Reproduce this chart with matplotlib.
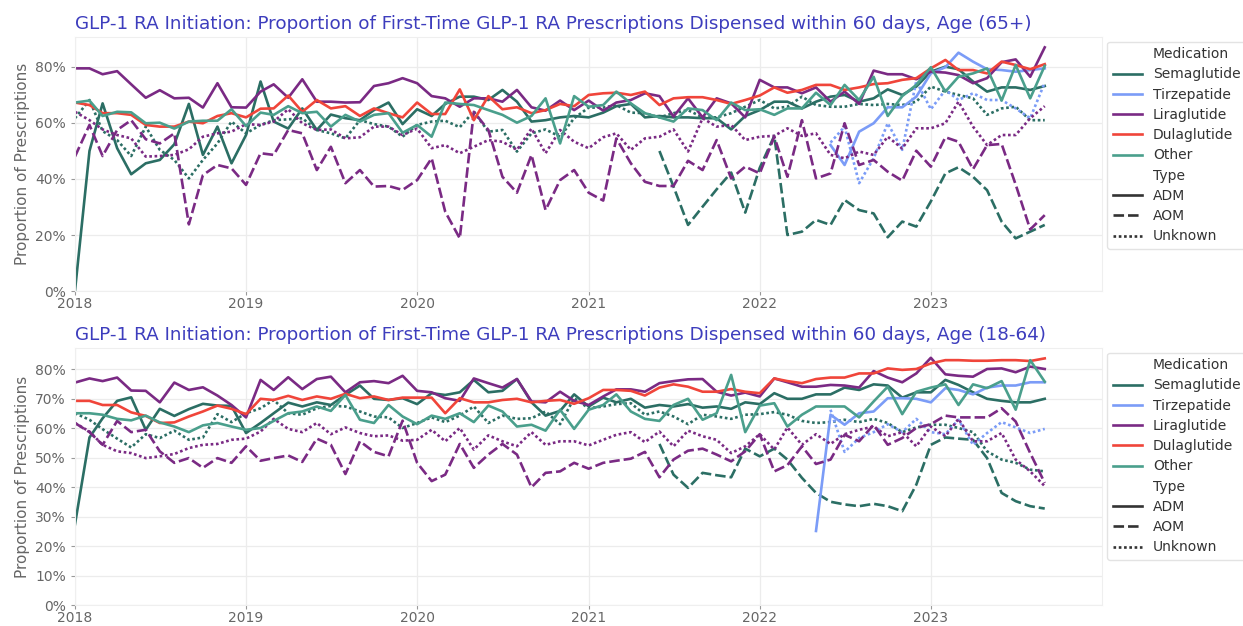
import numpy as np
import pandas as pd
import matplotlib
matplotlib.use('Agg')
import matplotlib.pyplot as plt
from matplotlib.lines import Line2D
from matplotlib.ticker import PercentFormatter, MultipleLocator

# monthly points, Jan 2018 - Sep 2023
months = pd.date_range('2018-01-01', periods=69, freq='MS')

# ---- Age 65+ (values in %) ----
sema_adm_65 = [0, 50, 67, 51, 41.7, 45.6, 46.8, 52.4, 66.8, 48.6, 58.7, 45.6, 55.7, 74.8, 60.5, 58, 65.2, 57.5,
               63, 61.7, 61, 64.6, 67.3, 59.6, 64.9, 62.5, 66.8, 69.4, 69.4, 68.2, 71.8, 67.6, 60.5, 61, 62, 62.5,
               62, 63.7, 66, 66.8, 62, 62.5, 62, 62, 61.7, 61.7, 57.7, 62.5, 64.6, 67.6, 67.6, 65.2, 67.6, 69.4,
               70, 67.6, 68.8, 72, 70, 73, 78.3, 80.1, 79.2, 74.8, 71.2, 72.7, 72.7, 71.8, 73.2]
sema_aom_65 = [50, 37.3, 23.6, 30.1, 36.3, 42.3, 28, 44, 55.4, 20, 21.2, 25.4, 23.6, 32.5, 28.9, 27.7, 19.2,
               24.8, 23, 32, 42, 44.2, 40.8, 36, 24.8, 18.8, 21.2, 23.6]
sema_unk_65 = [61.7, 68.2, 57.1, 53.9, 48.2, 58.7, 50.4, 46.8, 40.2, 46.8, 52.7, 60.5, 56.3, 59.3, 61, 61.3,
               61.7, 57.5, 56.3, 54.5, 61, 59.6, 58.7, 55.1, 59.3, 60.5, 60.8, 58.5, 64.1, 56.9, 57.5, 49.8, 56.3,
               57.7, 55.1, 61.7, 65.5, 65.5, 66.4, 63.7, 63.5, 62, 63.5, 64.6, 62, 62, 63.5, 65.8, 68.2, 65.2,
               65.8, 69.4, 66.4, 65.8, 65.8, 66.8, 66.4, 66.8, 66.4, 67.6, 73, 71.2, 70, 68.8, 62.9, 65.2, 65.8,
               61, 61]
tirz_adm_65 = [52.1, 45, 56.9, 59.9, 65.6, 65.6, 69.4, 77.7, 79.9, 85.1, 81.9, 79.2, 78.9, 78.3, 78.9, 79.5]
tirz_unk_65 = [53, 58.7, 38.5, 47.4, 59.9, 50.4, 75, 64.9, 71.8, 68.2, 70.6, 68.2, 68.2, 65.2, 61.7, 74.4]
lira_adm_65 = [79.5, 79.5, 77.4, 78.5, 73.8, 69, 71.7, 68.8, 69, 65.5, 74.2, 65.6, 65.5, 71.2, 73.8, 69, 75.6,
               67.6, 67.6, 67.3, 67.4, 73.2, 74.2, 76, 74.2, 69.6, 68.8, 65.8, 68.8, 68.8, 67.6, 71.8, 65.6, 64.4,
               68, 64.6, 68, 64.4, 67.3, 68.2, 70.6, 69.6, 62.3, 68.8, 62, 68.8, 67, 62, 75.4, 72.7, 72.7, 70.6,
               72.7, 67.6, 71.2, 66.8, 78.7, 77.4, 77.4, 75.6, 78.3, 78, 77.1, 74.2, 76, 81.7, 82.7, 76.5, 87]
lira_aom_65 = [48, 59.3, 48.2, 57.5, 61, 54.2, 52.7, 56.3, 23.8, 41.4, 45, 43.8, 37.9, 49.2, 48.6, 57.5, 56.3,
               43.2, 51.5, 38.5, 43.2, 37.3, 37.5, 36.1, 39.6, 47.4, 28.3, 18.8, 64, 57.5, 40.8, 35.1, 48.6, 28.9,
               39.6, 43.2, 35.1, 32.3, 54.5, 45.6, 39, 37.5, 37.5, 46.5, 43.2, 53.9, 40.2, 44.4, 42, 55.1, 40.8,
               61, 40.2, 42, 59.9, 45, 46.8, 42.6, 39.4, 50.1, 44.4, 54.9, 53.3, 43.5, 52.1, 52.5, 38, 22, 27.1]
lira_unk_65 = [64, 61, 57.7, 55.7, 54.5, 48, 48.2, 48.6, 50.6, 55.1, 56.3, 56.9, 59.6, 59.3, 60.5, 64.9, 59.9,
               57.5, 57.7, 54.5, 54.9, 58.7, 58.7, 55.7, 58, 51, 52.1, 49.2, 51.5, 53.9, 53.3, 50.4, 58, 49.2,
               57.5, 53.3, 51, 54.9, 56.3, 50.4, 54.5, 55.1, 57.7, 49.8, 61.7, 58.7, 59.3, 53.9, 55.1, 55.4, 58.1,
               55.4, 56.3, 48.6, 47.4, 49.8, 48.6, 55.1, 50.9, 58.1, 58.1, 59.9, 67.6, 58.7, 52.1, 55.7, 55.7,
               61.7, 66]
dula_adm_65 = [67.3, 66.4, 63.5, 63.5, 62.9, 59.3, 58.7, 58.7, 60.5, 59.9, 62.5, 63.5, 62, 65.1, 65.2, 69.8, 64,
               68.2, 65.2, 66, 62.5, 65.2, 63.5, 62, 67.3, 63.2, 63.2, 72, 61, 69.6, 64.9, 65.6, 63.5, 64.6, 66.8,
               66, 70, 70.6, 70.8, 70, 71.2, 66.4, 68.8, 69.2, 69.2, 68.2, 66.8, 68.2, 69.8, 72.7, 70.8, 71.8,
               73.6, 73.6, 71.8, 72.7, 73.9, 74.2, 75.4, 76, 79.5, 82.5, 78.9, 78.9, 77.7, 81.9, 80.7, 79.2, 81]
other_adm_65 = [67.3, 68, 62.5, 64, 63.8, 59.9, 60.1, 58, 60.5, 60.8, 60.8, 64.9, 58.9, 63.7, 62.9, 66, 63.5,
                64, 58.7, 62.9, 60.5, 62.9, 63.5, 56.5, 59.3, 55.1, 67.3, 66.8, 66.4, 64.6, 62.9, 60.1, 62.5, 68.8,
                52.7, 69.6, 65.8, 66.4, 71.2, 67, 63.5, 62, 60.5, 65.2, 64.6, 61, 67.3, 64.6, 64.9, 62.9, 65.2,
                65.2, 70.8, 66.4, 73.6, 68.2, 76.5, 62.5, 69.6, 73.6, 79.9, 71.2, 76.5, 77.7, 79.5, 68, 80.7, 68.8,
                80.4]

# ---- Age 18-64 (values in %) ----
sema_adm_18 = [27.3, 56.8, 63.3, 69.2, 70.4, 59.4, 66.5, 64.1, 66.4, 68.2, 67.6, 67.5, 58.3, 61.7, 65, 68.6,
               67.3, 68.7, 67.8, 71.2, 74.4, 69.9, 69.5, 70.1, 68.1, 71.8, 71.2, 72.1, 76.3, 72.1, 72.6, 76.6,
               68.7, 64.2, 65.8, 71.4, 67.3, 70.3, 68.7, 69.9, 66.9, 67.8, 67.3, 68.1, 66.9, 67.3, 66.5, 68.7,
               68.1, 71.8, 69.9, 69.9, 71.4, 71.4, 73.7, 72.9, 74.8, 74.4, 70.3, 72.1, 72.1, 76.3, 74.6, 72.1,
               69.9, 69.2, 68.7, 68.7, 69.9]
sema_aom_18 = [54.6, 44.2, 39.7, 44.8, 44, 43.3, 53, 50.4, 53, 49.3, 43.1, 38, 35, 34.1, 33.5, 34.3, 33.5,
               31.8, 40.8, 54.3, 56.8, 56.4, 56, 49.8, 38, 35.2, 33.5, 32.7]
sema_unk_18 = [65, 62.8, 59.6, 56.4, 53.4, 57.9, 56.6, 59.1, 56, 56.8, 64.7, 62, 65, 66.7, 69.5, 65, 64.5,
               66.7, 67.5, 67.3, 65.6, 63.9, 63.6, 60, 61.7, 63.6, 62, 64.2, 67.3, 61.7, 64.2, 63.1, 63.3, 65.6,
               61.3, 70.1, 66.7, 67.3, 68.1, 68.4, 64.5, 65.6, 63.9, 61.3, 64.5, 63.9, 63.1, 64.5, 64.7, 65.4,
               64.5, 62.4, 61.7, 62, 62.8, 62, 63.1, 61.7, 58.6, 60.2, 61.1, 61.1, 60, 58.6, 52.1, 49.3, 48.2,
               45.9, 45.3]
tirz_adm_18 = [25.1, 64.5, 61.1, 65, 65.6, 70.1, 70.1, 69.9, 68.7, 73.5, 72.9, 71.4, 73.7, 74.4, 74.4, 75.5,
               75.5]
tirz_unk_18 = [66.2, 51.9, 56.6, 58.6, 61.3, 58.6, 63.1, 58.6, 57.9, 62.8, 54.3, 58.3, 62, 60.2, 58.3, 59.7]
lira_adm_18 = [75.4, 76.8, 75.9, 77.1, 72.7, 72.6, 68.7, 75.4, 72.9, 73.8, 71, 67.8, 63.6, 76.3, 72.9, 77.2,
               73.2, 76.6, 77.4, 72.1, 75.5, 75.9, 75.2, 77.7, 72.6, 72.1, 70.1, 69.2, 76.8, 75.2, 73.7, 76.6, 69,
               68.7, 72.3, 69.2, 67.8, 70.7, 73.1, 73.1, 72.3, 75.2, 75.9, 76.5, 76.6, 72.3, 71, 72, 70.7, 76.8,
               75.5, 74, 74, 74.6, 74.4, 73.7, 79.3, 77.1, 75.5, 78.5, 83.8, 78.2, 77.7, 77.4, 80, 80.2, 78.9,
               80.8, 80]
lira_aom_18 = [61.7, 58.6, 54.3, 62.4, 58.6, 59.4, 52.1, 48.2, 49.8, 46.5, 49.8, 48.2, 53.8, 48.9, 49.8, 50.7,
               48.5, 56.4, 54.3, 44.4, 55.5, 51.9, 50.4, 62.5, 48.2, 42, 44.2, 54.6, 46.5, 51, 54.6, 51, 39.9,
               44.8, 45.3, 48.2, 46.2, 48.2, 48.9, 49.6, 51.9, 43.3, 49.3, 52.3, 53, 51, 48.7, 52.1, 57.9, 45.3,
               47.4, 53.8, 47.8, 49.3, 57.7, 55.5, 61.1, 54.3, 56.6, 60, 61.3, 64.2, 63.6, 63.6, 63.6, 66.7, 62.2,
               51.5, 41.4]
lira_unk_18 = [61.7, 58.8, 54.3, 52.1, 51.5, 49.8, 50.4, 51.2, 53.2, 54.3, 54.6, 56, 56.4, 58.8, 63.1, 59.7,
               58.6, 61.7, 57.9, 60.2, 58.3, 57.2, 57.5, 55.7, 56, 59.4, 55.5, 60, 52.7, 57.5, 55.5, 53.8, 58.6,
               54.3, 55.5, 55.5, 54.1, 56, 57.7, 58.6, 55.2, 58.8, 53.8, 59.1, 57.2, 56, 51.5, 53.8, 57.9, 52.7,
               60.2, 54.3, 57.9, 54.6, 57.9, 59.4, 60.5, 57.2, 58.6, 53.8, 60.5, 57.2, 63.1, 55.5, 55.5, 58.3,
               49.3, 45.3, 40.3]
dula_adm_18 = [69.2, 69.2, 67.8, 67.8, 65.3, 64.1, 61.7, 61.9, 63.9, 65.6, 67.6, 66.5, 64.7, 69.9, 69.5, 70.9,
               69.5, 70.7, 69.9, 71.6, 70.1, 70.7, 69.5, 70.3, 70.3, 70.3, 65, 70.1, 68.7, 68.7, 69.5, 69.9, 68.7,
               69.2, 69.5, 68.2, 70.1, 72.9, 72.9, 72.6, 71, 73.7, 74.8, 74, 72.3, 72.3, 73.2, 72.3, 71.8, 76.8,
               75.9, 75.2, 76.6, 77.1, 77.1, 78.5, 78.5, 80.2, 79.7, 80, 81.9, 83, 83, 82.8, 82.8, 83, 83, 82.7,
               83.6]
other_adm_18 = [65, 65, 64.5, 63.1, 62.6, 64.2, 61.9, 60.5, 58.6, 60.9, 61.7, 60.5, 59.4, 60, 62.4, 65, 65.6,
                67.3, 65.8, 71.2, 62.8, 61.7, 67.8, 63.9, 61.3, 64.2, 63.1, 65, 62, 67.6, 65.6, 60.5, 61.1, 59.1,
                66.2, 59.7, 66.2, 67.8, 71.4, 65.6, 63.1, 62.4, 67.8, 69.9, 62.8, 65, 78, 58.6, 67.6, 68.4, 60.5,
                64.5, 67.3, 67.3, 67.3, 63.6, 69, 74, 64.7, 72.3, 73.7, 74.8, 67.8, 74.8, 73.5, 75.9, 66.2, 83,
                75.7]

# first month index of each series that starts late
start_sema_aom = 41
start_tirz_65 = 53
start_tirz_adm_18 = 52
start_tirz_unk_18 = 53

colors = {'Semaglutide': '#2b6e64', 'Tirzepatide': '#7b9cf7', 'Liraglutide': '#7a2a84',
          'Dulaglutide': '#f0453a', 'Other': '#4a9f8c'}
dashes = {'ADM': '-', 'AOM': (0, (4, 1.5)), 'Unknown': (0, (1, 1))}

panels = [
    ('GLP-1 RA Initiation: Proportion of First-Time GLP-1 RA Prescriptions Dispensed within 60 days, Age (65+)',
     [('Semaglutide', 'ADM', 0, sema_adm_65), ('Semaglutide', 'AOM', start_sema_aom, sema_aom_65),
      ('Semaglutide', 'Unknown', 0, sema_unk_65),
      ('Tirzepatide', 'ADM', start_tirz_65, tirz_adm_65), ('Tirzepatide', 'Unknown', start_tirz_65, tirz_unk_65),
      ('Liraglutide', 'ADM', 0, lira_adm_65), ('Liraglutide', 'AOM', 0, lira_aom_65),
      ('Liraglutide', 'Unknown', 0, lira_unk_65),
      ('Dulaglutide', 'ADM', 0, dula_adm_65), ('Other', 'ADM', 0, other_adm_65)],
     90.7, 20),
    ('GLP-1 RA Initiation: Proportion of First-Time GLP-1 RA Prescriptions Dispensed within 60 days, Age (18-64)',
     [('Semaglutide', 'ADM', 0, sema_adm_18), ('Semaglutide', 'AOM', start_sema_aom, sema_aom_18),
      ('Semaglutide', 'Unknown', 0, sema_unk_18),
      ('Tirzepatide', 'ADM', start_tirz_adm_18, tirz_adm_18),
      ('Tirzepatide', 'Unknown', start_tirz_unk_18, tirz_unk_18),
      ('Liraglutide', 'ADM', 0, lira_adm_18), ('Liraglutide', 'AOM', 0, lira_aom_18),
      ('Liraglutide', 'Unknown', 0, lira_unk_18),
      ('Dulaglutide', 'ADM', 0, dula_adm_18), ('Other', 'ADM', 0, other_adm_18)],
     87.1, 10),
]

fig = plt.figure(figsize=(12.43, 6.26), dpi=100)
rects = [[0.0603, 0.5351, 0.8262, 0.4058], [0.0603, 0.0335, 0.8262, 0.4105]]

gray = '#666666'
for rect, (title, series, ytop, step) in zip(rects, panels):
    ax = fig.add_axes(rect)
    for med, typ, start, vals in series:
        ax.plot(months[start:start + len(vals)], vals, color=colors[med],
                linestyle=dashes[typ], linewidth=1.9)

    ax.set_xlim(months[0], pd.Timestamp('2024-01-01'))
    ax.set_ylim(0, ytop)
    ax.set_xticks(pd.date_range('2018-01-01', '2023-01-01', freq='YS'))
    ax.set_xticklabels([str(y) for y in range(2018, 2024)])
    ax.yaxis.set_major_locator(MultipleLocator(step))
    ax.yaxis.set_major_formatter(PercentFormatter(100, decimals=0))
    ax.tick_params(colors='#999999', labelcolor=gray, labelsize=10, length=3, width=0.8)
    ax.tick_params(axis='x', pad=1.5)
    ax.set_ylabel('Proportion of Prescriptions', color=gray, fontsize=11)
    ax.set_title(title, loc='left', color='#3d3dbd', fontsize=13.2, pad=6)
    ax.grid(True, color='#ececec', linewidth=0.9)
    ax.set_axisbelow(True)
    for s in ax.spines.values():
        s.set_color('#efefef')

    # seaborn-like legend with section headers
    blank = Line2D([], [], linestyle='none')
    handles = [blank] + [Line2D([], [], color=colors[m], lw=1.9) for m in colors]
    handles += [blank] + [Line2D([], [], color='#333333', lw=1.9, linestyle=dashes[t]) for t in dashes]
    labels = ['Medication'] + list(colors) + ['Type'] + list(dashes)
    leg = ax.legend(handles, labels, loc='upper left', bbox_to_anchor=(1.005, 0.982),
                    borderaxespad=0, fontsize=10, labelspacing=0.45, handlelength=2.1,
                    frameon=True, fancybox=True, edgecolor='#dddddd')
    for txt in leg.get_texts():
        txt.set_color('#333333')

fig.savefig('out.png', dpi=100)
